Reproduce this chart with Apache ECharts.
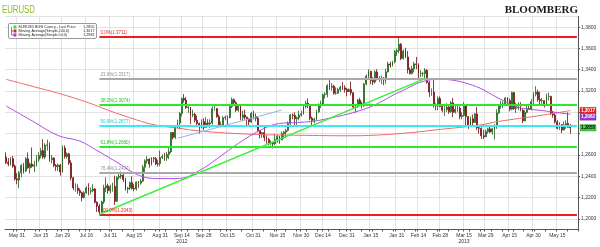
<!DOCTYPE html>
<html><head><meta charset="utf-8">
<script src="https://cdn.jsdelivr.net/npm/echarts@6/dist/echarts.min.js"></script>
<style>html,body{margin:0;padding:0;background:#fff}#c{width:600px;height:247px}</style>
</head><body><div id="c"></div>
<script>
// ---- data ----
// daily candles, weekdays from 2012-05-24 to 2013-05-23; [open, close, low, high] in price x 10000
const candles = [
[12580,12530,12515,12625],[12530,12515,12495,12570],[12515,12565,12500,12580],[12565,12495,12480,12590],[12495,12375,12360,12510],[12375,12365,12325,12430],
[12365,12432,12288,12450],[12432,12500,12390,12515],[12500,12450,12425,12525],[12450,12565,12440,12580],[12565,12480,12470,12625],[12480,12515,12425,12530],
[12515,12495,12480,12670],[12495,12505,12440,12545],[12505,12560,12490,12600],[12560,12595,12535,12625],[12595,12640,12570,12665],[12640,12580,12565,12748],
[12580,12690,12560,12710],[12690,12695,12640,12745],[12695,12555,12535,12720],[12555,12570,12520,12600],[12570,12500,12485,12580],[12500,12490,12450,12515],
[12490,12505,12450,12520],[12505,12440,12405,12515],[12440,12665,12435,12690],
[12665,12585,12565,12690],[12585,12610,12565,12625],[12610,12525,12505,12620],[12525,12385,12360,12550],[12385,12290,12270,12395],[12290,12290,12255,12335],
[12290,12265,12235,12325],[12265,12245,12215,12285],[12245,12200,12165,12255],[12200,12245,12190,12260],[12245,12290,12235,12305],[12290,12260,12220,12335],
[12260,12265,12230,12295],[12265,12280,12250,12325],[12280,12155,12145,12290],[12155,12120,12065,12165],[12120,12065,12043,12140],[12065,12160,12060,12170],
[12160,12290,12140,12320],[12290,12310,12250,12390],[12310,12265,12235,12330],[12265,12300,12240,12320],
[12300,12305,12255,12340],[12305,12165,12130,12405],[12165,12390,12160,12400],[12390,12400,12370,12440],[12400,12410,12375,12445],[12410,12370,12345,12420],
[12370,12280,12265,12385],[12280,12290,12240,12300],[12290,12340,12270,12350],[12340,12285,12275,12400],[12285,12280,12260,12325],[12280,12345,12265,12350],
[12345,12335,12290,12355],[12335,12355,12320,12375],[12355,12485,12345,12505],[12485,12545,12440,12560],[12545,12560,12520,12590],[12560,12515,12480,12570],
[12515,12570,12500,12580],[12570,12565,12530,12580],[12565,12515,12505,12580],[12515,12520,12490,12555],[12520,12575,12495,12640],
[12575,12585,12560,12605],[12585,12575,12545,12620],[12575,12605,12545,12630],[12605,12630,12560,12665],[12630,12810,12615,12815],[12810,12765,12745,12815],
[12765,12860,12750,12870],[12860,12900,12850,12930],[12900,12990,12840,13005],[12990,13130,12960,13140],[13130,13115,13090,13172],[13115,13045,13030,13145],
[13045,13050,12995,13075],[13050,12975,12890,13050],[12975,12980,12955,13025],[12980,12925,12905,12995],[12925,12895,12880,12970],[12895,12865,12800,12905],
[12865,12915,12850,12935],[12915,12860,12835,12945],
[12860,12900,12855,12955],[12900,12890,12865,12935],[12890,12900,12855,12935],[12900,13035,12885,13055],[13035,13035,13015,13075],[13035,12960,12950,13020],
[12960,12880,12870,12980],[12880,12880,12860,12915],[12880,12950,12870,12965],[12950,12955,12925,12970],[12955,12950,12885,12970],[12950,13055,12945,13080],
[13055,13120,13040,13140],[13120,13090,13065,13130],[13090,13020,13005,13105],[13020,13060,13005,13075],[13060,12950,12925,13065],[12950,12975,12920,13015],
[12975,12955,12930,13025],[12955,12940,12880,12960],[12940,12910,12880,12945],[12910,12990,12900,13005],[12990,12960,12935,13015],
[12960,12945,12915,12990],[12945,12830,12820,12965],[12830,12800,12755,12825],[12800,12810,12760,12815],[12810,12765,12730,12875],[12765,12745,12705,12785],
[12745,12710,12690,12760],[12710,12715,12690,12735],[12715,12705,12661,12725],[12705,12745,12690,12800],[12745,12775,12715,12790],[12775,12740,12705,12780],
[12740,12800,12740,12820],[12800,12815,12750,12825],[12815,12830,12760,12845],[12830,12895,12820,12915],[12895,12975,12880,12985],[12975,12970,12935,12990],
[12970,12940,12880,13000],[12940,12950,12880,12960],[12950,12975,12925,13015],[12975,12985,12960,13015],
[12985,13055,12980,13070],[13055,13085,13035,13110],[13085,13070,13040,13130],[13070,12945,12925,13075],[12945,12925,12875,12960],[12925,12935,12895,12950],
[12935,13005,12925,13025],[13005,13070,12995,13085],[13070,13080,13040,13110],[13080,13165,13065,13175],[13165,13170,13130,13190],[13170,13250,13140,13265],
[13250,13235,13210,13308],[13235,13245,13205,13275],[13245,13180,13165,13260],[13180,13180,13165,13235],[13180,13215,13175,13230],[13215,13235,13190,13250],
[13235,13230,13210,13285],[13230,13215,13185,13255],[13215,13195,13150,13230],
[13195,13215,13190,13225],[13215,13185,13160,13290],[13185,13050,13035,13190],[13050,13070,12995,13080],[13070,13115,13040,13125],[13115,13080,13070,13135],
[13080,13070,13035,13100],[13070,13265,13050,13275],[13265,13340,13255,13355],[13340,13385,13320,13405],[13385,13300,13265,13390],[13300,13285,13255,13330],
[13285,13380,13270,13395],[13380,13315,13300,13405],[13315,13320,13285,13340],[13320,13320,13265,13345],[13320,13305,13255,13330],[13305,13380,13270,13410],
[13380,13455,13375,13475],[13455,13445,13420,13475],[13445,13475,13430,13485],[13475,13570,13460,13585],[13570,13580,13530,13600],
[13580,13640,13555,13711],[13640,13505,13490,13650],[13505,13575,13495,13590],[13575,13520,13510,13605],[13520,13400,13365,13575],[13400,13365,13355,13420],
[13365,13410,13355,13435],[13410,13455,13375,13475],[13455,13450,13405,13520],[13450,13365,13310,13460],[13365,13365,13330,13395],[13365,13365,13335,13380],
[13365,13395,13320,13415],[13395,13280,13270,13405],[13280,13190,13145,13295],[13190,13190,13155,13225],[13190,13065,13045,13320],[13065,13060,13020,13085],
[13060,13130,13020,13150],[13130,13055,13050,13150],
[13055,13020,13000,13075],[13020,13025,12965,13060],[13025,13050,13005,13085],[13050,13005,12985,13075],[13005,13090,12995,13105],[13090,13000,12955,13135],
[13000,13030,12990,13060],[13030,13040,13000,13075],[13040,12960,12935,13055],[12960,12970,12935,13000],[12970,13075,12960,13095],[13075,12960,12880,12995],
[12960,12870,12845,12965],[12870,12940,12865,12960],[12940,12905,12880,12980],[12905,12985,12900,12995],[12985,12855,12835,13050],[12855,12850,12800,12880],
[12850,12780,12750,12860],[12780,12770,12750,12835],[12770,12820,12770,12840],
[12820,12845,12800,12855],[12845,12815,12805,12870],[12815,12845,12790,12855],[12845,12880,12745,12890],[12880,12995,12845,13030],[12995,13065,12985,13075],
[13065,13070,13035,13110],[13070,13080,13040,13105],[13080,13135,13060,13145],[13135,13110,13070,13140],[13110,13030,13010,13130],[13030,13185,13020,13195],
[13185,13035,13025,13195],[13035,13045,12995,13090],[13045,13050,13020,13095],[13050,13020,13010,13095],[13020,12920,12900,13035],[12920,13000,12920,13020],
[13000,13035,12990,13060],[13035,13030,13025,13080],[13030,13100,13020,13125],[13100,13170,13075,13190],
[13170,13190,13150,13245],[13190,13120,13100,13215],[13120,13110,13070,13195],[13110,13110,13080,13135],[13110,13075,13045,13110],[13075,13150,13060,13175],
[13150,13150,13110,13185],[13150,12990,12975,13155],[12990,12975,12950,13015],[12975,12910,12895,12990],[12910,12850,12840,12930],[12850,12885,12835,12910],
[12885,12835,12805,12890],[12835,12880,12830,12915],[12880,12895,12845,12925],[12895,12860,12855,13000],[12860,12855,12800,12890]
];
// moving averages read at sample dates
const ma200 = [['2012-05-24',1.3310],['2012-06-11',1.3245],['2012-06-27',1.3180],['2012-07-17',1.3090],['2012-07-30',1.3020],
  ['2012-08-16',1.2930],['2012-08-29',1.2880],['2012-09-13',1.2850],['2012-09-26',1.2825],['2012-10-29',1.2795],
  ['2012-11-29',1.2785],['2013-01-01',1.2780],['2013-02-01',1.2800],['2013-02-28',1.2840],['2013-03-26',1.2880],
  ['2013-04-08',1.2915],['2013-05-03',1.2970],['2013-05-23',1.3017]];
const ma50 = [['2012-05-24',1.3060],['2012-06-11',1.2920],['2012-06-27',1.2782],['2012-07-11',1.2730],['2012-07-23',1.2640],
  ['2012-08-06',1.2520],['2012-08-17',1.2410],['2012-08-30',1.2378],['2012-09-13',1.2380],['2012-09-26',1.2453],
  ['2012-10-09',1.2576],['2012-10-22',1.2708],['2012-11-05',1.2830],['2012-11-16',1.2896],['2012-11-29',1.2906],
  ['2012-12-12',1.2924],['2013-01-11',1.3037],['2013-02-01',1.3188],['2013-02-20',1.3300],['2013-02-28',1.3310],
  ['2013-03-21',1.3254],['2013-04-08',1.3132],['2013-04-19',1.3047],['2013-05-03',1.3019],['2013-05-23',1.2982]];
const fibStart = '2012-07-24';
const fibLevels = [1.3711, 1.3317, 1.3074, 1.2877, 1.2680, 1.2437, 1.2043];
const fibLabels = ['0.0%(1.3711)','23.6%(1.3317)','38.2%(1.3074)','50.0%(1.2877)','61.8%(1.2680)','76.4%(1.2437)','100.0%(1.2043)'];
const trendGreen = [['2012-07-24',1.2043],['2013-02-19',1.3317]];
const trendBlue = [['2012-09-12',1.2757],['2012-11-19',1.3021]];
const lastValues = {price: 1.2855, ma200: 1.3017, ma50: 1.2982};
const legendNames = ['EURUSD BGN Curncy - Last Price', 'Moving Average(Simple,200,0)', 'Moving Average(Simple,50,0)'];
const labelDates = ['2012-05-31','2012-06-15','2012-06-29','2012-07-16','2012-07-31','2012-08-15','2012-08-31','2012-09-14',
  '2012-09-28','2012-10-15','2012-10-31','2012-11-15','2012-11-30','2012-12-14','2012-12-31','2013-01-15','2013-01-31',
  '2013-02-14','2013-02-28','2013-03-15','2013-03-29','2013-04-15','2013-04-30','2013-05-15'];
const yearUnder = {'2012-09-14':'2012','2013-03-15':'2013'};
const monthNames = ['Jan','Feb','Mar','Apr','May','Jun','Jul','Aug','Sep','Oct','Nov','Dec'];

// categories: weekdays
const categories = [];
for (let d = new Date(Date.UTC(2012,4,24)); d <= new Date(Date.UTC(2013,4,28)); d.setUTCDate(d.getUTCDate()+1)) {
  const wd = d.getUTCDay();
  if (wd > 0 && wd < 6) categories.push(d.toISOString().slice(0,10));
}
const labelSet = new Set(labelDates);
const ohlc = candles.map(r => r.map(v => v / 10000));
const fmt = v => v.toFixed(4).replace('.', ',');
const lastCat = categories[categories.length - 1];

const fibColors = ['#ee1c1c','#a8a8a8','#2ee82e','#3ee8f0','#2ee82e','#a8a8a8','#ee1c1c'];
const fibText = ['#ee1c1c','#909090','#22c022','#20c8d8','#22c022','#909090','#ee1c1c'];
const markData = fibLevels.map((v, i) => [
  {coord: [fibStart, v], lineStyle: {color: fibColors[i], width: 2, type: 'solid'},
   label: {show: true, position: 'insideStartTop', formatter: fibLabels[i], color: fibText[i], fontSize: 4.5, distance: 1}},
  {coord: [lastCat, v]}
]);
markData.push([{coord: trendGreen[0], lineStyle: {color: '#3cf03c', width: 1.5, type: 'solid'}, label: {show: false}}, {coord: trendGreen[1]}]);
markData.push([{coord: trendBlue[0], lineStyle: {color: '#8cb4f0', width: 1, type: 'solid'}, label: {show: false}}, {coord: trendBlue[1]}]);

const chart = echarts.init(document.getElementById('c'), null, {renderer: 'canvas'});
chart.setOption({
  animation: false,
  backgroundColor: '#ffffff',
  textStyle: {fontFamily: 'Liberation Sans, Arial, sans-serif'},
  grid: {left: 5, right: 22, top: 16.5, bottom: 17.5},
  xAxis: {
    type: 'category', data: categories, boundaryGap: true,
    axisLine: {lineStyle: {color: '#555', width: 1}},
    axisTick: {show: true, length: 2, lineStyle: {color: '#555'},
      interval: (i, v) => labelSet.has(v) || new Date(v + 'T00:00:00Z').getUTCDay() === 3},
    axisLabel: {interval: (i, v) => labelSet.has(v), fontSize: 5, color: '#333', margin: 3, lineHeight: 6,
      formatter: v => {
        const m = +v.slice(5,7), d = +v.slice(8,10);
        const s = monthNames[m-1] + ' ' + d;
        return yearUnder[v] ? s + '\n' + yearUnder[v] : s;
      }},
    splitLine: {show: true, interval: (i, v) => labelSet.has(v), lineStyle: {color: '#e2e2e2', width: 1}}
  },
  yAxis: {
    type: 'value', position: 'right', min: 1.19, max: 1.39, splitNumber: 10, scale: true,
    axisLine: {show: true, lineStyle: {color: '#555'}},
    axisTick: {show: true, length: 2, lineStyle: {color: '#555'}},
    axisLabel: {fontSize: 5, color: '#333', margin: 3, showMinLabel: false, showMaxLabel: false,
      formatter: v => (Math.abs(v - 1.28) < 1e-6 || Math.abs(v - 1.30) < 1e-6) ? '' : fmt(v)},
    splitLine: {show: true, lineStyle: {color: '#e2e2e2', width: 1}}
  },
  series: [
    {name: 'EURUSD', type: 'candlestick', data: ohlc, barWidth: '62%', z: 3,
     itemStyle: {color: '#22c322', color0: '#e81515', borderColor: '#1f5f1f', borderColor0: '#6e1010', borderWidth: 0.8},
     markLine: {symbol: ['none','none'], silent: true, animation: false, data: markData}},
    {name: 'MA200', type: 'line', data: ma200, smooth: 0.4, showSymbol: false, z: 4,
     lineStyle: {color: '#f06a6a', width: 1}},
    {name: 'MA50', type: 'line', data: ma50, smooth: 0.4, showSymbol: false, z: 4,
     lineStyle: {color: '#b24fe4', width: 1}}
  ]
});

// header, legend and value tags (tags placed through the y scale)
const lf = '3.7px "Liberation Sans", sans-serif';
const legendVals = [lastValues.price, lastValues.ma200, lastValues.ma50];
const legendCols = ['#33dd33', '#e82020', '#a235e0'];
const legendChildren = [
  {type: 'rect', shape: {x: 0, y: 0, width: 88, height: 15, r: 1.5}, style: {fill: '#ffffff', stroke: '#9a9a9a', lineWidth: 1}},
  {type: 'polyline', shape: {points: [[3,3.5],[3,11.5],[5,11.5]]}, style: {stroke: '#333', lineWidth: 0.6, fill: null}},
  {type: 'polyline', shape: {points: [[3,7.5],[5,7.5]]}, style: {stroke: '#333', lineWidth: 0.6}}
];
legendNames.forEach((n, i) => {
  legendChildren.push({type: 'rect', shape: {x: 5, y: 2 + 4 * i, width: 3, height: 3}, style: {fill: legendCols[i]}});
  legendChildren.push({type: 'text', x: 10, y: 1.9 + 4 * i, style: {text: n, fill: '#222', font: lf}});
  legendChildren.push({type: 'text', x: 86, y: 1.9 + 4 * i, style: {text: fmt(legendVals[i]), fill: '#222', align: 'right', font: lf}});
});
const yRed = chart.convertToPixel({yAxisIndex: 0}, lastValues.ma200);
let yPur = chart.convertToPixel({yAxisIndex: 0}, lastValues.ma50);
if (yPur - yRed < 6.5) yPur = yRed + 6.5;
const yGrn = chart.convertToPixel({yAxisIndex: 0}, lastValues.price);
function tag(y, v, bg, fg) {
  return {type: 'group', x: 580, y: y - 3.2, z: 100, children: [
    {type: 'rect', shape: {x: 0, y: 0, width: 16, height: 6.4}, style: {fill: bg, stroke: '#555', lineWidth: 0.4}},
    {type: 'text', x: 8, y: 3.3, style: {text: fmt(v), fill: fg, align: 'center', verticalAlign: 'middle', font: 'bold 4.6px "Liberation Sans", sans-serif'}}
  ]};
}
chart.setOption({graphic: [
  {type: 'text', left: 2, top: 5, scaleX: 0.78, style: {text: 'EURUSD', fill: '#8cbb1e', font: '10px "Liberation Sans", sans-serif'}},
  {type: 'text', right: 22, top: 5, style: {text: 'BLOOMBERG', fill: '#1a1a1a', font: 'bold 11px "Liberation Serif", serif'}},
  {type: 'group', left: 8, top: 23, children: legendChildren},
  tag(yRed, lastValues.ma200, '#e01e1e', '#ffffff'),
  tag(yPur, lastValues.ma50, '#9a2fd0', '#ffffff'),
  tag(yGrn, lastValues.price, '#3cd83c', '#000000')
]});
</script></body></html>
